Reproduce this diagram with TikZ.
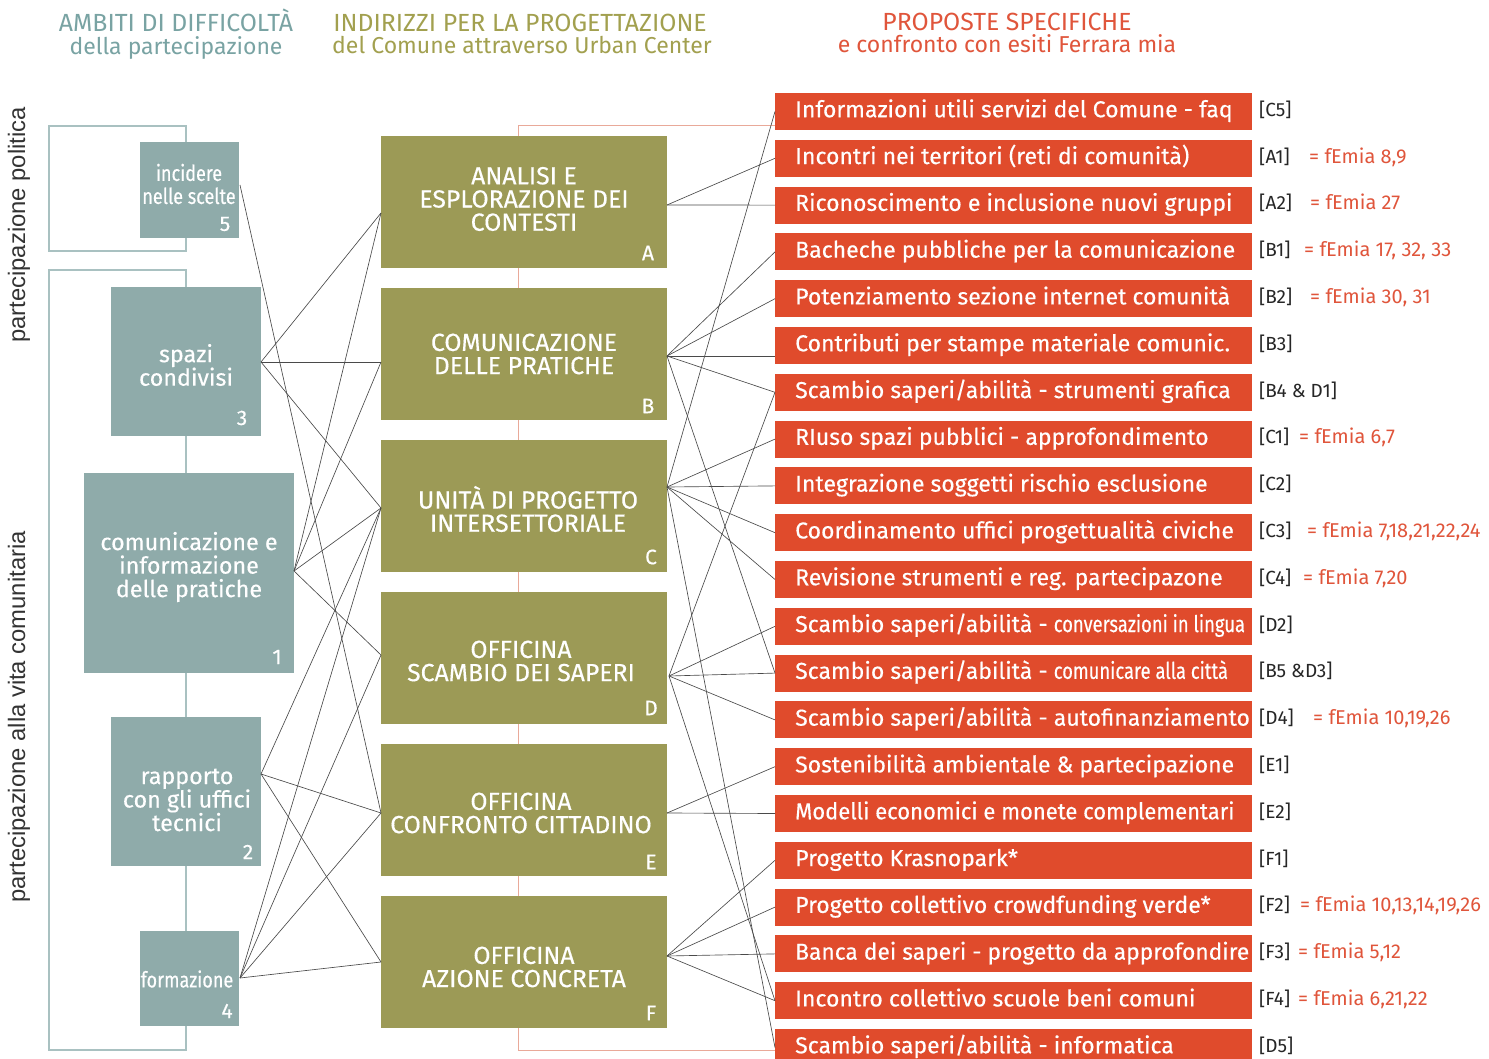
\documentclass[tikz,border=0pt]{standalone}
\usepackage{fontspec}
\setmainfont{Fira Sans}
\newfontfamily\fira[FakeBold=0.35]{Fira Sans}
\newfontfamily\firac[FakeStretch=0.82,FakeBold=0.35]{Fira Sans}
\newfontfamily\firacr[FakeStretch=0.80,FakeBold=0.35]{Fira Sans}
\newfontfamily\firat{Fira Sans}
\newfontfamily\arial{Liberation Sans}
\definecolor{tealbox}{HTML}{8FABAA}
\definecolor{tealline}{HTML}{A9C1C1}
\definecolor{tealtitle}{HTML}{79A3A3}
\definecolor{olivebox}{HTML}{9C9A56}
\definecolor{olivetitle}{HTML}{A2A04F}
\definecolor{redbox}{HTML}{E04B2C}
\definecolor{redtitle}{HTML}{E0553B}
\definecolor{redline}{HTML}{E9A999}
\definecolor{connc}{HTML}{4A4A4A}
\tikzset{
  lbox/.style={fill=tealbox,draw=none,inner sep=0pt},
  ltext/.style={text=white,align=center,inner sep=0pt,font=\fira\fontsize{23.3}{23.5}\selectfont},
  ltextc/.style={text=white,align=center,inner sep=0pt,font=\firac\fontsize{22}{23}\selectfont},
  mbox/.style={fill=olivebox,draw=none,inner sep=0pt,minimum width=286pt,minimum height=132pt},
  mtext/.style={text=white,align=center,inner sep=0pt,font=\fira\fontsize{24.8}{23.2}\selectfont},
  numlab/.style={text=white,inner sep=0pt,font=\fira\fontsize{21}{21}\selectfont},
  rbox/.style={fill=redbox,draw=none,inner sep=0pt,minimum width=477pt,minimum height=37pt},
  rtext/.style={text=white,anchor=west,inner sep=0pt,text height=16pt,text depth=4.5pt,font=\fira\fontsize{23}{23}\selectfont},
  rlab/.style={text=black!85,anchor=west,inner sep=0pt,text height=13pt,text depth=3.5pt,font=\firat\fontsize{19}{19}\selectfont},
  rfem/.style={text=redtitle,anchor=west,inner sep=0pt,text height=13pt,text depth=3.5pt,font=\firat\fontsize{20}{20}\selectfont},
  ttl/.style={inner sep=0pt,anchor=base,font=\firat\fontsize{24.8}{24.8}\selectfont},
  ttlb/.style={inner sep=0pt,anchor=base,font=\firat\fontsize{23}{23}\selectfont},
  conn/.style={draw=connc,line width=0.65pt},
  bracket/.style={draw=tealline,line width=1.2pt},
  spine/.style={draw=redline,line width=0.9pt},
  sidelab/.style={rotate=90,inner sep=0pt,text=black!80,font=\arial\fontsize{23.8}{24}\selectfont}
}
\newcommand\prow[3]{%
  \pgfmathsetmacro\yy{111.5+46.8*#1}%
  \node[rbox] (r#1) at (1013.5,\yy) {};
  \node[rtext] (rt#1) at (795,\yy) {#2};
  \node[rlab] (rl#1) at (1259,\yy) {#3};
  \coordinate (ra#1) at (775,\yy);
}
\newcommand\pfem[3]{%
  \pgfmathsetmacro\yy{111.5+46.8*#1}%
  \node[rfem] (rf#1) at (#2,\yy) {#3};
}
\begin{document}
\begin{tikzpicture}[x=1pt,y=-1pt]
\clip (0,0) rectangle (1489,1059);
\fill[white] (0,0) rectangle (1489,1059);

% titles
\node[ttl,text=tealtitle] (t1a) at (176,32) {AMBITI DI DIFFICOLTÀ};
\node[ttlb,text=tealtitle] (t1b) at (176,55) {della partecipazione};
\node[ttl,text=olivetitle] (t2a) at (520,32) {INDIRIZZI PER LA PROGETTAZIONE};
\node[ttlb,text=olivetitle] (t2b) at (522,54) {del Comune attraverso Urban Center};
\node[ttl,text=redtitle] (t3a) at (1007,31) {PROPOSTE SPECIFICHE};
\node[ttlb,text=redtitle] (t3b) at (1007,53) {e confronto con esiti Ferrara mia};

% side labels
\node[sidelab] (s1) at (19,225) {partecipazione politica};
\node[sidelab] (s2) at (19,717) {partecipazione alla vita comunitaria};

% brackets
\draw[bracket] (186,142) -- (186,126) -- (49,126) -- (49,251) -- (186,251) -- (186,238);
\draw[bracket] (186,1050) -- (49,1050) -- (49,270) -- (186,270) -- cycle;

% red spine
\coordinate (sTop) at (518,125);
\coordinate (sBot) at (518,1050);
\draw[spine] (775,125) -- (sTop) -- (sBot) -- (775,1050);

% left boxes
\node[lbox,minimum width=99pt,minimum height=96pt] (b5) at (189.5,190) {};
\node[lbox,minimum width=150pt,minimum height=149pt] (b3) at (186,361.5) {};
\node[lbox,minimum width=210pt,minimum height=200pt] (b1) at (189,573) {};
\node[lbox,minimum width=150pt,minimum height=149pt] (b2) at (186,791.5) {};
\node[lbox,minimum width=99pt,minimum height=95pt] (b4) at (189.5,978.5) {};
\node[ltextc] (tx5) at (189,184) {incidere\\nelle scelte};
\node[ltext] (tx3) at (186,365) {spazi\\condivisi};
\node[ltext] (tx1) at (189,567) {comunicazione e\\informazione\\delle pratiche};
\node[ltext] (tx2) at (187,800) {rapporto\\con gli uffici\\tecnici};
\node[ltextc] (tx4) at (187,979) {formazione};
\node[numlab] (n5) at (225,224) {5};
\node[numlab] (n3) at (242,418) {3};
\node[numlab] (n1) at (277,657) {1};
\node[numlab] (n2) at (248,852) {2};
\node[numlab] (n4) at (227,1011) {4};

% middle boxes
\node[mbox] (mA) at (524,202) {};
\node[mbox] (mB) at (524,354) {};
\node[mbox] (mC) at (524,506) {};
\node[mbox] (mD) at (524,658) {};
\node[mbox] (mE) at (524,810) {};
\node[mbox] (mF) at (524,962) {};
\node[mtext] (tA) at (524,199) {ANALISI E\\ESPLORAZIONE DEI\\CONTESTI};
\node[mtext] (tB) at (524,354) {COMUNICAZIONE\\DELLE PRATICHE};
\node[mtext] (tC) at (528,509) {UNITÀ DI PROGETTO\\INTERSETTORIALE};
\node[mtext] (tD) at (521,661) {OFFICINA\\SCAMBIO DEI SAPERI};
\node[mtext] (tE) at (521,813) {OFFICINA\\CONFRONTO CITTADINO};
\node[mtext] (tF) at (524,967) {OFFICINA\\AZIONE CONCRETA};
\node[numlab] (lA) at (648,253) {A};
\node[numlab] (lB) at (648,406) {B};
\node[numlab] (lC) at (651,557) {C};
\node[numlab] (lD) at (651,708) {D};
\node[numlab] (lE) at (651,862) {E};
\node[numlab] (lF) at (651,1013) {F};

% right rows
\prow{0}{Informazioni utili servizi del Comune - faq}{[C5]}
\prow{1}{Incontri nei territori (reti di comunità)}{[A1]}
\prow{2}{Riconoscimento e inclusione nuovi gruppi}{[A2]}
\prow{3}{Bacheche pubbliche per la comunicazione}{[B1]}
\prow{4}{Potenziamento sezione internet comunità}{[B2]}
\prow{5}{Contributi per stampe materiale comunic.}{[B3]}
\prow{6}{Scambio saperi/abilità - strumenti grafica}{[B4 \& D1]}
\prow{7}{RIuso spazi pubblici - approfondimento}{[C1]}
\prow{8}{Integrazione soggetti rischio esclusione}{[C2]}
\prow{9}{Coordinamento uffici progettualità civiche}{[C3]}
\prow{10}{Revisione strumenti e reg. partecipazone}{[C4]}
\prow{11}{Scambio saperi/abilità - {\firacr conversazioni in lingua}}{[D2]}
\prow{12}{Scambio saperi/abilità - {\firacr comunicare alla città}}{[B5 \&D3]}
\prow{13}{Scambio saperi/abilità - autofinanziamento}{[D4]}
\prow{14}{Sostenibilità ambientale \& partecipazione}{[E1]}
\prow{15}{\scalebox{0.956}[1]{Modelli economici e monete complementari}}{[E2]}
\prow{16}{Progetto Krasnopark*}{[F1]}
\prow{17}{Progetto collettivo crowdfunding verde*}{[F2]}
\prow{18}{\scalebox{0.99}[1]{Banca dei saperi - progetto da approfondire}}{[F3]}
\prow{19}{Incontro collettivo scuole beni comuni}{[F4]}
\prow{20}{Scambio saperi/abilità - informatica}{[D5]}
\pfem{1}{1309}{= fEmia 8,9}
\pfem{2}{1310}{= fEmia 27}
\pfem{3}{1304}{= fEmia 17, 32, 33}
\pfem{4}{1310}{= fEmia 30, 31}
\pfem{7}{1299}{= fEmia 6,7}
\pfem{9}{1307}{= fEmia 7,18,21,22,24}
\pfem{10}{1303}{= fEmia 7,20}
\pfem{13}{1313}{= fEmia 10,19,26}
\pfem{17}{1300}{= fEmia 10,13,14,19,26}
\pfem{18}{1298}{= fEmia 5,12}
\pfem{19}{1298}{= fEmia 6,21,22}

% anchors
\coordinate (a5) at (240,185);
\coordinate (a3) at (261,362);
\coordinate (a1) at (294,571);
\coordinate (a2) at (261,774);
\coordinate (a4) at (240,978);
\coordinate (Al) at (381,213);
\coordinate (Bl) at (381,362);
\coordinate (Cl) at (381,508);
\coordinate (Dl) at (381,655);
\coordinate (El) at (381,813);
\coordinate (Fl) at (381,962);
\coordinate (Ar) at (667,205);
\coordinate (Br) at (667,356);
\coordinate (Cr) at (667,487);
\coordinate (Dr) at (669,676);
\coordinate (Er) at (667,813);
\coordinate (Fr) at (667,956);
\coordinate (ra5b) at (775,356);

% left connectors
\draw[conn] (a5) -- (El);
\draw[conn] (a3) -- (Al);
\draw[conn] (a3) -- (Bl);
\draw[conn] (a3) -- (Cl);
\draw[conn] (a1) -- (Al);
\draw[conn] (a1) -- (Bl);
\draw[conn] (a1) -- (Cl);
\draw[conn] (a1) -- (Dl);
\draw[conn] (a2) -- (Cl);
\draw[conn] (a2) -- (El);
\draw[conn] (a2) -- (Fl);
\draw[conn] (a4) -- (Cl);
\draw[conn] (a4) -- (Dl);
\draw[conn] (a4) -- (El);
\draw[conn] (a4) -- (Fl);

% right connectors
\draw[conn] (Ar) -- (ra1);
\draw[conn] (Ar) -- (ra2);
\draw[conn] (Br) -- (ra3);
\draw[conn] (Br) -- (ra4);
\draw[conn] (Br) -- (ra5b);
\draw[conn] (Br) -- (ra6);
\draw[conn] (Br) -- (ra12);
\draw[conn] (Cr) -- (ra0);
\draw[conn] (Cr) -- (ra7);
\draw[conn] (Cr) -- (ra8);
\draw[conn] (Cr) -- (ra9);
\draw[conn] (Cr) -- (ra10);
\draw[conn] (Cr) -- (ra20);
\draw[conn] (Dr) -- (ra6);
\draw[conn] (Dr) -- (ra11);
\draw[conn] (Dr) -- (ra12);
\draw[conn] (Dr) -- (ra13);
\draw[conn] (Dr) -- (ra19);
\draw[conn] (Er) -- (ra14);
\draw[conn] (Er) -- (ra15);
\draw[conn] (Fr) -- (ra16);
\draw[conn] (Fr) -- (ra17);
\draw[conn] (Fr) -- (ra18);
\draw[conn] (Fr) -- (ra19);
\end{tikzpicture}
\end{document}
